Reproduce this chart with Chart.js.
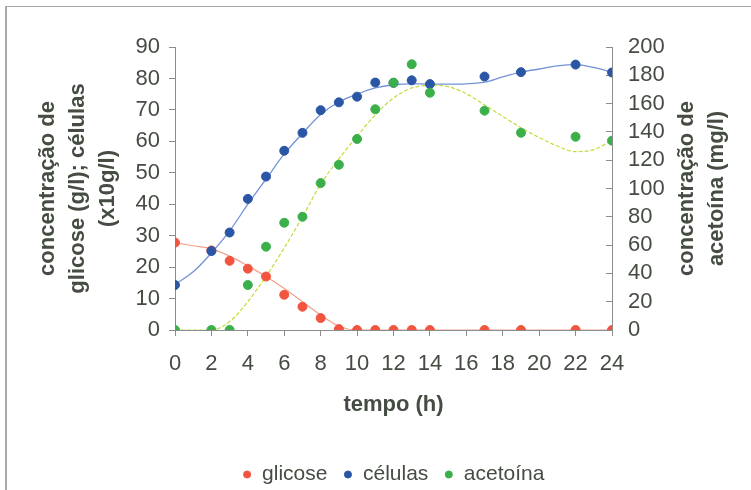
<!DOCTYPE html>
<html><head><meta charset="utf-8">
<script src="https://cdn.jsdelivr.net/npm/chart.js@4.4.0/dist/chart.umd.min.js"></script>
<style>
html,body{margin:0;padding:0;background:#fff;}
#wrap{position:relative;width:751px;height:490px;overflow:hidden;}
#frame{position:absolute;left:5px;top:6px;width:760px;height:500px;border-top:1px solid #a8a8a8;border-left:2px solid #a8a8a8;pointer-events:none;}
</style></head><body>
<div id="wrap"><canvas id="c" width="751" height="490"></canvas><div id="frame"></div></div>
<script>
// measured points
const tempo   = [0, 2, 3, 4, 5, 6, 7, 8, 9, 10, 11, 12, 13, 14, 17, 19, 22, 24];
const glicose = [27.8, 25.3, 22, 19.5, 17, 11.2, 7.4, 3.8, 0.3, 0, 0, 0, 0, 0, 0, 0, 0, 0];
const celulas = [14.3, 25.1, 31, 41.7, 48.8, 57, 62.7, 69.9, 72.4, 74.2, 78.7, 78.6, 79.4, 78.2, 80.6, 82, 84.4, 81.9];
const acetoina = [0, 0, 0, 31.8, 58.9, 75.8, 80, 103.8, 116.8, 135, 156, 174.8, 187.8, 167.7, 155, 139.4, 136.6, 133.8];

// smoothed trend curves
const tempoCurva   = [0, 1, 2, 3, 4, 5, 6, 7, 8, 9, 10, 11, 12, 13, 14, 15, 16, 17, 18, 19, 20, 21, 22, 23, 24];
const glicoseCurva = [27.8, 26.8, 25.8, 23.5, 20.4, 17, 13.2, 9, 4.8, 1.2, 0, 0, 0, 0, 0, 0, 0, 0, 0, 0, 0, 0, 0, 0, 0];
const celulasCurva = [14.5, 18.5, 24.5, 31.5, 40, 48, 56, 62.5, 68.5, 72.5, 75, 77, 78, 78.3, 78.2, 78.2, 78.3, 78.8, 80.5, 82, 83, 84, 84.4, 83.5, 82];
const acetoinaCurva = [0, 0, 0, 6, 20, 38, 58, 80, 103, 121, 137, 152, 164, 171, 173, 172, 167, 159, 151, 143, 136, 130, 126, 127.5, 134];

const xTicks = [0, 2, 4, 6, 8, 10, 12, 14, 16, 18, 20, 22, 24];

const FONT = 'Arial, "Liberation Sans", sans-serif';
const TXT = '#454d43';
const AX = '#8c8c8c';

const pts = (xs, ys) => xs.map((x, i) => ({x: x, y: ys[i]}));

const rightTitle = {
  id: 'rightTitle',
  afterDraw(chart) {
    const ctx = chart.ctx;
    const cy = (chart.chartArea.top + chart.chartArea.bottom) / 2;
    ctx.save();
    ctx.fillStyle = TXT;
    ctx.font = 'bold 22px ' + FONT;
    ctx.textAlign = 'center';
    ctx.textBaseline = 'middle';
    const lines = ['concentração de', 'acetoína (mg/l)'];
    const xs = [687, 717];
    lines.forEach((t, i) => {
      ctx.save();
      ctx.translate(xs[i], cy);
      ctx.rotate(-Math.PI / 2);
      ctx.fillText(t, 0, 0);
      ctx.restore();
    });
    ctx.restore();
  }
};

// centre the legend under the plot area rather than the canvas
const legendShift = {
  id: 'legendShift',
  afterLayout(chart) {
    const lg = chart.legend;
    if (!lg) return;
    const ca = chart.chartArea;
    const shift = (ca.left + ca.right) / 2 - (lg.left + lg.right) / 2;
    lg.left += shift;
    lg.right += shift;
  }
};

new Chart(document.getElementById('c'), {
  type: 'line',
  data: {
    datasets: [
      {label: 'glicose', data: pts(tempo, glicose), yAxisID: 'y', showLine: false,
       pointRadius: 4.5, pointHoverRadius: 4.5, pointBackgroundColor: '#f2553f', pointBorderColor: '#f2553f', backgroundColor: '#f2553f', borderColor: '#f2553f', order: 5},
      {label: 'células', data: pts(tempo, celulas), yAxisID: 'y', showLine: false,
       pointRadius: 4.5, pointHoverRadius: 4.5, pointBackgroundColor: '#2b56a6', pointBorderColor: '#2b56a6', backgroundColor: '#2b56a6', borderColor: '#2b56a6', order: 4},
      {label: 'acetoína', data: pts(tempo, acetoina), yAxisID: 'y2', showLine: false,
       pointRadius: 4.5, pointHoverRadius: 4.5, pointBackgroundColor: '#3bb04a', pointBorderColor: '#3bb04a', backgroundColor: '#3bb04a', borderColor: '#3bb04a', order: 3},
      {label: 'curva glicose', data: pts(tempoCurva, glicoseCurva), yAxisID: 'y', pointRadius: 0,
       borderColor: '#f5a08a', borderWidth: 1.2, cubicInterpolationMode: 'monotone', fill: false, order: 8},
      {label: 'curva células', data: pts(tempoCurva, celulasCurva), yAxisID: 'y', pointRadius: 0,
       borderColor: '#7393d6', borderWidth: 1.3, cubicInterpolationMode: 'monotone', fill: false, order: 7},
      {label: 'curva acetoína', data: pts(tempoCurva, acetoinaCurva), yAxisID: 'y2', pointRadius: 0,
       borderColor: '#c2dc3a', borderWidth: 1.2, borderDash: [4, 2], cubicInterpolationMode: 'monotone', fill: false, order: 6}
    ]
  },
  options: {
    responsive: false,
    animation: false,
    devicePixelRatio: 1,
    layout: {padding: {top: 47, left: 0, right: 0, bottom: -5}},
    plugins: {
      tooltip: {enabled: false},
      title: {display: false},
      legend: {
        display: true, position: 'bottom',
        labels: {
          usePointStyle: true, pointStyle: 'circle', boxWidth: 9, boxHeight: 5, padding: 16,
          color: TXT, font: {family: FONT, size: 21},
          filter: (item) => item.datasetIndex < 3,
          sort: (a, b) => a.datasetIndex - b.datasetIndex
        }
      }
    },
    scales: {
      x: {
        type: 'linear', position: 'bottom', min: 0, max: 24,
        afterBuildTicks: (s) => { s.ticks = xTicks.map(v => ({value: v})); },
        afterFit: (s) => { s.height = 118; },
        grid: {display: true, drawOnChartArea: false, drawTicks: true, tickLength: 6, color: AX},
        border: {display: true, color: AX, width: 1},
        ticks: {color: TXT, font: {family: FONT, size: 22}, padding: 15, maxRotation: 0, autoSkip: false},
        title: {display: true, text: 'tempo (h)', color: TXT, font: {family: FONT, size: 22, weight: 'bold'}, padding: {top: 0, bottom: 30}}
      },
      y: {
        type: 'linear', position: 'left', min: 0, max: 90,
        ticks: {stepSize: 10, color: TXT, font: {family: FONT, size: 22}, padding: 9, autoSkip: false},
        afterFit: (s) => { s.width = 175; },
        grid: {display: true, drawOnChartArea: false, drawTicks: true, tickLength: 6, color: AX},
        border: {display: true, color: AX, width: 1},
        title: {display: true, text: ['concentração de', 'glicose (g/l); células', '(x10g/l)'], color: TXT,
                font: {family: FONT, size: 22, weight: 'bold', lineHeight: 1.36}, padding: {top: 33, bottom: 0}}
      },
      y2: {
        type: 'linear', position: 'right', min: 0, max: 200,
        ticks: {stepSize: 20, color: TXT, font: {family: FONT, size: 22}, padding: 22, autoSkip: false},
        afterFit: (s) => { s.width = 139; },
        grid: {display: true, drawOnChartArea: false, drawTicks: true, tickLength: -6, color: AX},
        border: {display: true, color: AX, width: 1},
        title: {display: false}
      }
    }
  },
  plugins: [rightTitle, legendShift]
});
</script>
</body></html>
